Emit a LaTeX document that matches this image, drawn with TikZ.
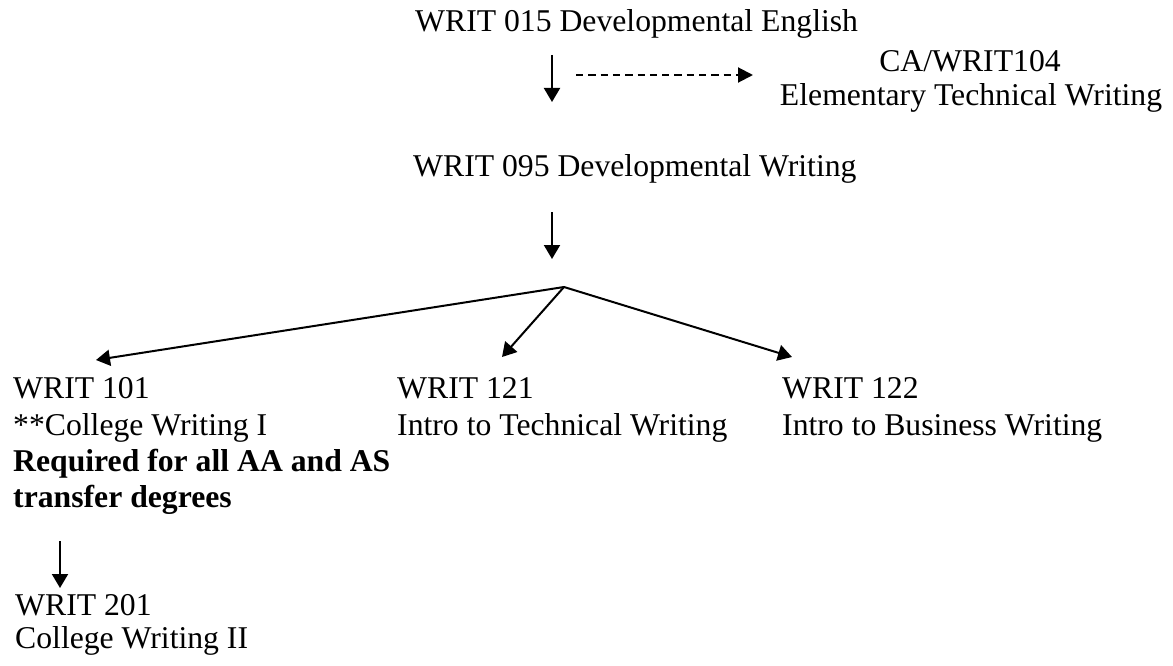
\documentclass[tikz,border=0pt]{standalone}
\usepackage{fontspec}
\setmainfont{Liberation Serif}
\usetikzlibrary{arrows.meta}
\begin{document}
\begin{tikzpicture}[x=1pt,y=-1pt,
  txt/.style={anchor=base west, inner sep=0pt, font=\fontsize{31.7}{36}\selectfont},
  ctxt/.style={anchor=base, inner sep=0pt, font=\fontsize{31.7}{36}\selectfont},
  btxt/.style={txt, font=\fontsize{31.7}{36}\selectfont\bfseries},
  arr/.style={line width=2pt, -{Triangle[width=16pt,length=14pt]}},
  darr/.style={line width=2pt, dash pattern=on 7.3pt off 5pt, -{Triangle[width=15pt,length=15pt]}}]
\useasboundingbox (0,0) rectangle (1173,666);
% texts
\node[txt] (t015) at (415,32) {WRIT 015 Developmental English};
\node[ctxt] (ca) at (970,72) {CA/WRIT104};
\node[ctxt] (elem) at (971,106) {Elementary Technical Writing};
\node[txt] (t095) at (413,177) {WRIT 095 Developmental Writing};
\node[txt] (w101) at (13,398) {WRIT 101};
\node[txt] (cw1) at (13,435) {**College Writing I};
\node[btxt] (req) at (13,471) {Required for all AA and AS};
\node[btxt] (tdeg) at (13,507) {transfer degrees};
\node[txt] (w121) at (397,398) {WRIT 121};
\node[txt] (itw) at (397,435) {Intro to Technical Writing};
\node[txt] (w122) at (782,398) {WRIT 122};
\node[txt] (ibw) at (782,435) {Intro to Business Writing};
\node[txt] (w201) at (15,615) {WRIT 201};
\node[txt] (cw2) at (15,648) {College Writing II};
% connector points
\coordinate (a1s) at (552,55);
\coordinate (a1e) at (552,102);
\coordinate (ds) at (576,75);
\coordinate (de) at (753,75);
\coordinate (a2s) at (552,212);
\coordinate (a2e) at (552,259);
\coordinate (apex) at (564,287);
\coordinate (tl) at (96,360);
\coordinate (tm) at (502,357);
\coordinate (tr) at (792,357);
\coordinate (a3s) at (60,541);
\coordinate (a3e) at (60,588);
% connectors
\draw[arr] (a1s) -- (a1e);
\draw[darr] (ds) -- (de);
\draw[arr] (a2s) -- (a2e);
\draw[arr] (apex) -- (tl);
\draw[arr] (apex) -- (tm);
\draw[arr] (apex) -- (tr);
\draw[arr] (a3s) -- (a3e);
\end{tikzpicture}
\end{document}
